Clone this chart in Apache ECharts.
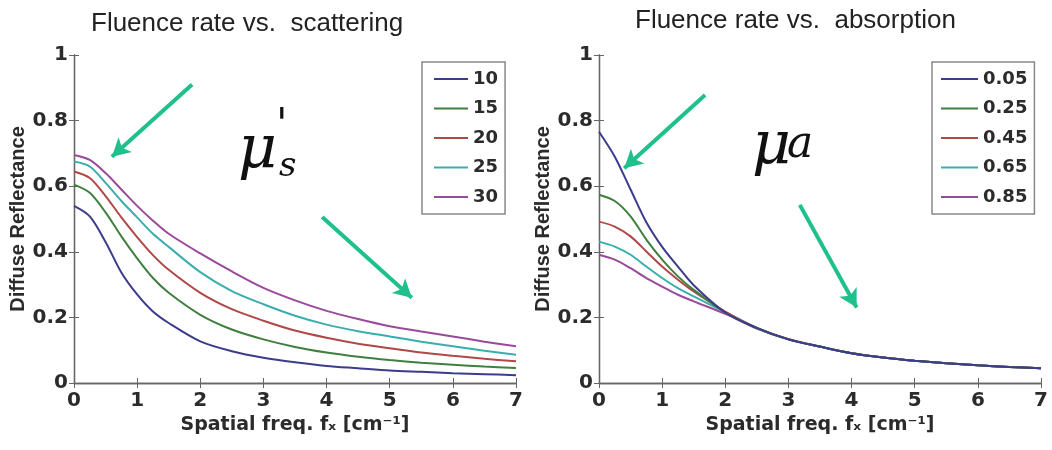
<!DOCTYPE html>
<html>
<head>
<meta charset="utf-8">
<script src="https://cdn.jsdelivr.net/npm/echarts@6/dist/echarts.min.js"></script>
<style>
  html, body { margin: 0; padding: 0; background: #fff; }
  #chart { width: 1052px; height: 450px; }
</style>
</head>
<body>
<div id="chart"></div>
<script>
// spatial frequency samples (cm^-1), shared by every curve
const freqs = [0, 0.25, 0.5, 0.75, 1, 1.25, 1.5, 2, 2.5, 3, 3.5, 4, 4.5, 5, 5.5, 6, 6.5, 7]

// left panel: reduced scattering mu_s'
const scatNames = ['10', '15', '20', '25', '30']
const scat10 = [0.54, 0.508, 0.43, 0.337, 0.27, 0.218, 0.183, 0.127, 0.097, 0.077, 0.063, 0.052, 0.045, 0.038, 0.034, 0.030, 0.027, 0.024]
const scat15 = [0.605, 0.58, 0.52, 0.447, 0.38, 0.32, 0.275, 0.208, 0.163, 0.133, 0.11, 0.093, 0.08, 0.07, 0.062, 0.056, 0.05, 0.046]
const scat20 = [0.645, 0.625, 0.57, 0.505, 0.445, 0.39, 0.345, 0.275, 0.225, 0.19, 0.16, 0.138, 0.12, 0.106, 0.093, 0.083, 0.074, 0.066]
const scat25 = [0.675, 0.66, 0.61, 0.555, 0.505, 0.455, 0.415, 0.338, 0.28, 0.24, 0.205, 0.178, 0.158, 0.142, 0.126, 0.112, 0.098, 0.086]
const scat30 = [0.695, 0.68, 0.64, 0.59, 0.54, 0.495, 0.455, 0.395, 0.34, 0.29, 0.252, 0.22, 0.195, 0.173, 0.157, 0.142, 0.126, 0.112]

// right panel: absorption mu_a
const absNames = ['0.05', '0.25', '0.45', '0.65', '0.85']
const abs005 = [0.766, 0.69, 0.59, 0.49, 0.415, 0.355, 0.298, 0.215, 0.168, 0.133, 0.111, 0.091, 0.078, 0.068, 0.06, 0.054, 0.049, 0.045]
const abs025 = [0.574, 0.555, 0.508, 0.437, 0.376, 0.325, 0.284, 0.215, 0.167, 0.133, 0.111, 0.091, 0.078, 0.068, 0.06, 0.054, 0.049, 0.045]
const abs045 = [0.492, 0.477, 0.447, 0.401, 0.355, 0.315, 0.279, 0.218, 0.168, 0.134, 0.111, 0.091, 0.078, 0.068, 0.06, 0.054, 0.049, 0.045]
const abs065 = [0.431, 0.416, 0.391, 0.355, 0.32, 0.289, 0.264, 0.216, 0.168, 0.133, 0.111, 0.091, 0.078, 0.068, 0.06, 0.054, 0.049, 0.045]
const abs085 = [0.391, 0.376, 0.35, 0.32, 0.294, 0.269, 0.249, 0.211, 0.166, 0.133, 0.111, 0.091, 0.078, 0.068, 0.06, 0.054, 0.049, 0.045]

const lineColors = ['#3c3c8c', '#3f7f3f', '#b04848', '#3aaeae', '#9a4a9a']
const arrowColor = '#1fc08c'

const chart = echarts.init(document.getElementById('chart'))

const tickFont = { fontFamily: 'DejaVu Sans', fontWeight: 'bold', color: '#2b2b2b' }

function bottomX (gi) {
  return {
    type: 'value', gridIndex: gi, min: 0, max: 7, interval: 1,
    name: 'Spatial freq. fₓ [cm⁻¹]',
    nameLocation: 'middle', nameGap: 33,
    nameTextStyle: { fontFamily: 'DejaVu Sans', fontWeight: 'bold', fontSize: 19, color: '#2b2b2b' },
    axisLine: { show: true, onZero: false, lineStyle: { color: '#666', width: 1.3 } },
    axisTick: { show: true, inside: true, length: 5, lineStyle: { color: '#666' } },
    axisLabel: Object.assign({ fontSize: 20, margin: 8 }, tickFont),
    splitLine: { show: false }
  }
}
function topX (gi) {
  return {
    type: 'value', gridIndex: gi, position: 'top', min: 0, max: 7, interval: 1,
    axisLine: { show: true, lineStyle: { color: '#666', width: 1.3 } },
    axisTick: { show: true, inside: true, length: 5, lineStyle: { color: '#666' } },
    axisLabel: { show: false },
    splitLine: { show: false }
  }
}
function leftY (gi) {
  return {
    type: 'value', gridIndex: gi, min: 0, max: 1, interval: 0.2,
    name: 'Diffuse Reflectance',
    nameLocation: 'middle', nameGap: 44,
    nameTextStyle: { fontFamily: 'Liberation Sans', fontWeight: 'bold', fontSize: 20, color: '#2b2b2b' },
    axisLine: { show: true, onZero: false, lineStyle: { color: '#666', width: 1.3 } },
    axisTick: { show: true, inside: true, length: 5, lineStyle: { color: '#666' } },
    axisLabel: Object.assign({ fontSize: 20, margin: 6 }, tickFont),
    splitLine: { show: false }
  }
}
function rightY (gi) {
  return {
    type: 'value', gridIndex: gi, position: 'right', min: 0, max: 1, interval: 0.2,
    axisLine: { show: true, lineStyle: { color: '#666', width: 1.3 } },
    axisTick: { show: true, inside: true, length: 5, lineStyle: { color: '#666' } },
    axisLabel: { show: false },
    splitLine: { show: false }
  }
}

function makeSeries (name, vals, idx, xi, yi) {
  return {
    name: name, type: 'line', xAxisIndex: xi, yAxisIndex: yi,
    data: freqs.map((f, i) => [f, vals[i]]),
    smooth: 0.3, symbol: 'none',
    lineStyle: { width: 2, color: lineColors[idx] },
    itemStyle: { color: lineColors[idx] },
    z: 10 - idx
  }
}

function arrow (from, to) {
  return [{ coord: from }, { coord: to }]
}

const scatSeries = [scat10, scat15, scat20, scat25, scat30].map((v, i) => makeSeries(scatNames[i], v, i, 0, 0))
const absSeries = [abs005, abs025, abs045, abs065, abs085].map((v, i) => makeSeries(absNames[i], v, i, 2, 2))

const arrowStyle = {
  silent: true, symbol: ['none', 'arrow'], symbolSize: [15, 18],
  label: { show: false },
  lineStyle: { color: arrowColor, width: 4, type: 'solid' },
  animation: false
}
scatSeries[0].markLine = Object.assign({
  data: [arrow([1.87, 0.91], [0.6, 0.69]), arrow([3.93, 0.506], [5.35, 0.26])]
}, arrowStyle)
absSeries[0].markLine = Object.assign({
  data: [arrow([1.68, 0.878], [0.4, 0.655]), arrow([3.18, 0.543], [4.08, 0.23])]
}, arrowStyle)

const legendBase = {
  orient: 'vertical', top: 62,
  backgroundColor: '#fff', borderColor: '#888', borderWidth: 1.5,
  itemHeight: 18, itemGap: 11.5,
  itemStyle: { opacity: 0 },
  lineStyle: { width: 2 },
  textStyle: { fontFamily: 'DejaVu Sans', fontWeight: 'bold', fontSize: 18, color: '#2b2b2b', lineHeight: 18 },
  selectedMode: false
}

const option = {
  animation: false,
  title: [
    { text: 'Fluence rate vs.  scattering', left: 86, top: 6,
      textStyle: { fontFamily: 'Liberation Sans', fontWeight: 'normal', fontSize: 26, color: '#222' } },
    { text: 'Fluence rate vs.  absorption', left: 630, top: 3,
      textStyle: { fontFamily: 'Liberation Sans', fontWeight: 'normal', fontSize: 26, color: '#222' } }
  ],
  legend: [
    Object.assign({}, legendBase, { left: 422, data: scatNames, itemWidth: 34, padding: [8, 7, 8, 11] }),
    Object.assign({}, legendBase, { left: 932, data: absNames, itemWidth: 37, padding: [8, 7, 8, 8] })
  ],
  grid: [
    { left: 74, top: 55, width: 442, height: 328, show: true, backgroundColor: '#fff', borderWidth: 0 },
    { left: 599, top: 55, width: 442, height: 328, show: true, backgroundColor: '#fff', borderWidth: 0 }
  ],
  xAxis: [bottomX(0), topX(0), bottomX(1), topX(1)],
  yAxis: [leftY(0), rightY(0), leftY(1), rightY(1)],
  graphic: [
    { type: 'text', left: 238, top: 122, style: { text: 'μ', font: 'italic 60px "DejaVu Serif"', fill: '#111' } },
    { type: 'text', left: 279, top: 150, style: { text: 's', font: 'italic 34px "DejaVu Serif"', fill: '#111' } },
    { type: 'text', left: 276, top: 106, style: { text: '\'', font: 'italic 42px "DejaVu Serif"', fill: '#111', rotation: 0 } },
    { type: 'text', left: 752, top: 118, style: { text: 'μ', font: 'italic 60px "DejaVu Serif"', fill: '#111' } },
    { type: 'text', left: 787, top: 124, style: { text: 'a', font: 'italic 44px "DejaVu Serif"', fill: '#111' } }
  ],
  series: scatSeries.concat(absSeries)
}

chart.setOption(option)
</script>
</body>
</html>
